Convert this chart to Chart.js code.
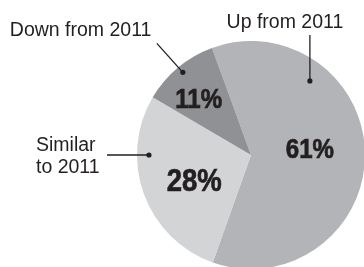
<!DOCTYPE html>
<html>
<head>
<meta charset="utf-8">
<script src="https://cdn.jsdelivr.net/npm/chart.js@4"></script>
<style>
  html, body { margin: 0; padding: 0; background: #fff; }
  #wrap { width: 364px; height: 267px; overflow: hidden; position: relative; }
  #pie { position: absolute; left: 0; top: 0; }
</style>
</head>
<body>
<div id="wrap"><canvas id="pie" width="372" height="276"></canvas></div>
<script>
const categories = ['Up from 2011', 'Similar to 2011', 'Down from 2011'];
const shares = [61, 28, 11];
const sliceColors = ['#b2b4b7', '#d3d4d6', '#8f9194'];

// callout placement: dot angle (deg, canvas), dot radius fraction,
// percentage label angle / radius fraction / font size
const callouts = [
  { lines: ['Up from 2011'], dotAng: -51.5, dotR: 0.83, pctR: 0.52, pctAng: -7, pctSize: 28 },
  { lines: ['Similar', 'to 2011'], dotAng: 180, dotR: 0.895, pctR: 0.55, pctAng: 155, pctSize: 32 },
  { lines: ['Down from 2011'], dotAng: -129.5, dotR: 0.94, pctR: 0.68, pctAng: -132.5, pctSize: 28 }
];

const ink = '#231f20';

const labelPlugin = {
  id: 'labels',
  afterDatasetsDraw(chart) {
    const c = chart.ctx;
    const arcs = chart.getDatasetMeta(0).data;
    const cx = arcs[0].x, cy = arcs[0].y, R = arcs[0].outerRadius;
    const pt = (ang, f) => [cx + Math.cos(ang * Math.PI / 180) * R * f, cy + Math.sin(ang * Math.PI / 180) * R * f];
    c.save();
    c.fillStyle = ink;
    c.strokeStyle = ink;
    c.lineWidth = 1.3;
    c.textBaseline = 'alphabetic';

    // percentages (condensed look: squeeze bold text horizontally)
    c.textAlign = 'center';
    arcs.forEach((a, i) => {
      const o = callouts[i];
      const p = pt(o.pctAng, o.pctR);
      c.save();
      c.font = 'bold ' + o.pctSize + 'px "Liberation Sans", Arial, sans-serif';
      c.translate(p[0], p[1] + 10);
      c.scale(0.86, 1);
      c.lineWidth = 0.7;
      c.fillText(shares[i] + '%', 0, 0);
      c.strokeText(shares[i] + '%', 0, 0);
      c.restore();
    });

    // callouts
    c.font = '19.5px "Liberation Sans", Arial, sans-serif';
    const dots = callouts.map(o => pt(o.dotAng, o.dotR));

    // Up from 2011: vertical leader
    let d = dots[0];
    c.beginPath(); c.moveTo(d[0], d[1]); c.lineTo(d[0], d[1] - 46); c.stroke();
    c.textAlign = 'center';
    c.fillText(callouts[0].lines[0], d[0] - 25, d[1] - 53);

    // Similar to 2011: horizontal leader
    d = dots[1];
    c.beginPath(); c.moveTo(d[0], d[1]); c.lineTo(d[0] - 42, d[1]); c.stroke();
    c.textAlign = 'left';
    c.fillText(callouts[1].lines[0], d[0] - 113, d[1] - 4);
    c.fillText(callouts[1].lines[1], d[0] - 113, d[1] + 18);

    // Down from 2011: diagonal leader
    d = dots[2];
    c.beginPath(); c.moveTo(d[0], d[1]); c.lineTo(d[0] - 26, d[1] - 29); c.stroke();
    c.textAlign = 'left';
    c.fillText(callouts[2].lines[0], d[0] - 173, d[1] - 36);

    dots.forEach(p => { c.beginPath(); c.arc(p[0], p[1], 2.6, 0, Math.PI * 2); c.fill(); });
    c.restore();
  }
};

new Chart(document.getElementById('pie'), {
  type: 'pie',
  data: {
    labels: categories,
    datasets: [{
      data: shares,
      backgroundColor: sliceColors,
      borderWidth: 0
    }]
  },
  options: {
    responsive: false,
    animation: false,
    rotation: -20,
    layout: { padding: { left: 137, top: 41, right: 7, bottom: 7 } },
    plugins: { legend: { display: false }, tooltip: { enabled: false } }
  },
  plugins: [labelPlugin]
});
</script>
</body>
</html>
